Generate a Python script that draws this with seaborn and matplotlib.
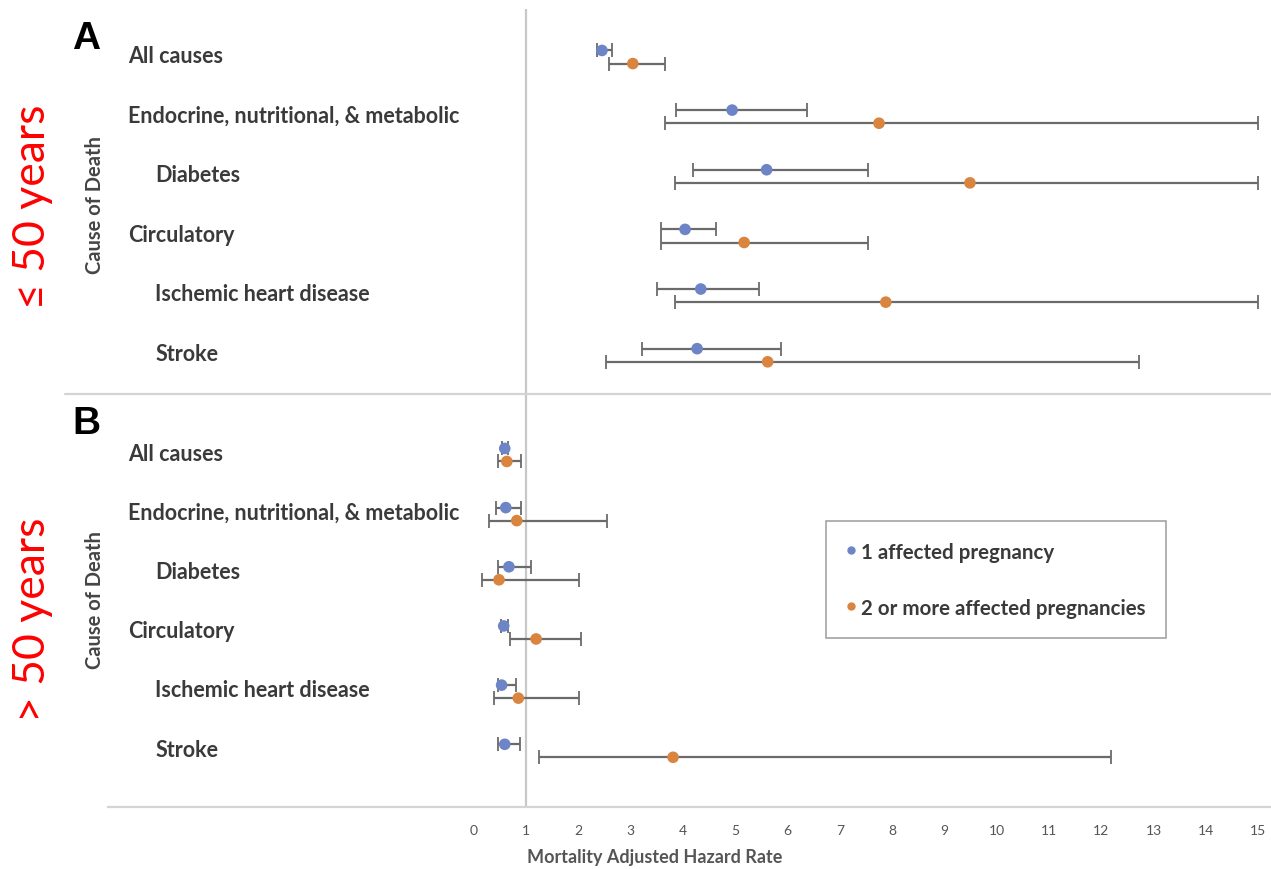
import numpy as np
import pandas as pd
import matplotlib
matplotlib.use("Agg")
import matplotlib.pyplot as plt
from matplotlib.lines import Line2D
import seaborn as sns

# causes of death (indented ones are sub-categories)
causes = ["All causes", "Endocrine, nutritional, & metabolic", "Diabetes",
          "Circulatory", "Ischemic heart disease", "Stroke"]
indent = [False, False, True, False, True, True]

# panel A: <= 50 years
a_hr1 = [2.45, 4.94, 5.60, 4.04, 4.34, 4.27]
a_lo1 = [2.35, 3.86, 4.19, 3.58, 3.50, 3.21]
a_hi1 = [2.65, 6.37, 7.54, 4.63, 5.45, 5.87]
a_hr2 = [3.04, 7.75, 9.49, 5.17, 7.88, 5.62]
a_lo2 = [2.58, 3.65, 3.85, 3.58, 3.85, 2.53]
a_hi2 = [3.65, 15.0, 15.0, 7.54, 15.0, 12.72]

# panel B: > 50 years
b_hr1 = [0.59, 0.61, 0.67, 0.57, 0.53, 0.59]
b_lo1 = [0.54, 0.42, 0.47, 0.52, 0.46, 0.46]
b_hi1 = [0.65, 0.91, 1.09, 0.66, 0.80, 0.88]
b_hr2 = [0.63, 0.82, 0.48, 1.19, 0.85, 3.81]
b_lo2 = [0.46, 0.29, 0.16, 0.70, 0.38, 1.24]
b_hi2 = [0.91, 2.55, 2.01, 2.05, 2.01, 12.19]

groups = ["1 affected pregnancy", "2 or more affected pregnancies"]
colors = ["#6d84c6", "#d9843f"]

sns.set_style("white")
plt.rcParams["font.family"] = ["Lato", "DejaVu Sans"]

W, H = 1271, 870
fig = plt.figure(figsize=(W / 100, H / 100), dpi=100)


def fig_box(x0, y0, x1, y1):
    return [x0 / W, 1 - y1 / H, (x1 - x0) / W, (y1 - y0) / H]


ax_a = fig.add_axes(fig_box(108, 10, 1270, 395))
ax_b = fig.add_axes(fig_box(108, 395, 1270, 808))

xlim = (-7.0, 15.23)
panels = [
    (ax_a, a_hr1, a_lo1, a_hi1, a_hr2, a_lo2, a_hi2, (5.70, -0.755), "A"),
    (ax_b, b_hr1, b_lo1, b_hi1, b_hr2, b_lo2, b_hi2, (6.0, -0.98), "B"),
]

for ax, hr1, lo1, hi1, hr2, lo2, hi2, ylim, tag in panels:
    rows = np.arange(len(causes))
    df = pd.DataFrame({
        "hr": hr1 + hr2,
        "lo": lo1 + lo2,
        "hi": hi1 + hi2,
        "row": np.concatenate([rows - 0.06, rows + 0.16]),
        "group": [groups[0]] * len(causes) + [groups[1]] * len(causes),
    })
    for g in groups:
        d = df[df["group"] == g]
        ax.errorbar(d["hr"], d["row"], xerr=[d["hr"] - d["lo"], d["hi"] - d["hr"]],
                    fmt="none", ecolor="#6b6b6b", elinewidth=1.6, capsize=5,
                    capthick=1.3, zorder=2)
    sns.scatterplot(data=df, x="hr", y="row", hue="group", palette=colors,
                    s=70, edgecolor="none", legend=False, ax=ax, zorder=3)
    ax.axvline(1, color="#c8c8c8", lw=1.6, zorder=1)
    ax.set_xlim(*xlim)
    ax.set_ylim(*ylim)
    ax.set_xlabel("")
    ax.set_ylabel("")
    ax.set_yticks([])
    for s in ["top", "left", "right", "bottom"]:
        ax.spines[s].set_visible(False)
    for i, c in enumerate(causes):
        ax.text(-6.1 if indent[i] else -6.62, i + 0.02, c, fontsize=15.5, fontweight="bold",
                color="#3a3a3a", va="center", ha="left")
    ax.text(-7.68, ylim[1] + 0.18, tag, fontsize=28, fontweight="bold",
            color="black", va="top", ha="left", family=["Liberation Sans", "DejaVu Sans"])

ax_a.set_xticks([])
ax_b.set_xticks(range(16))
ax_b.set_xticklabels([str(i) for i in range(16)], fontsize=10, color="#555555")
ax_b.tick_params(axis="x", length=0, pad=12)
ax_b.spines["bottom"].set_visible(True)
ax_b.spines["bottom"].set_color("#d4d4d4")
ax_b.spines["bottom"].set_linewidth(1.6)

# divider between the two panels
fig.add_artist(Line2D([65 / W, 1], [1 - 395 / H, 1 - 395 / H], color="#d4d4d4", lw=1.6))

fig.text(655 / W, 1 - 858 / H, "Mortality Adjusted Hazard Rate", fontsize=13,
         fontweight="bold", color="#555555", ha="center", va="center")

for yc in [205, 600]:
    fig.text(95 / W, 1 - yc / H, "Cause of Death", rotation=90, fontsize=14.5,
             fontweight="bold", color="#454545", ha="center", va="center")

fig.text(33 / W, 1 - 207 / H, "\u2264 50 years", rotation=90, fontsize=32,
         color="#ff0000", ha="center", va="center")
fig.text(33 / W, 1 - 620 / H, "> 50 years", rotation=90, fontsize=32,
         color="#ff0000", ha="center", va="center")

handles = [Line2D([], [], marker="o", ls="none", markersize=5, color=c) for c in colors]
leg = fig.legend(handles, groups, loc="upper left",
                 bbox_to_anchor=(826 / W, 1 - 522 / H), bbox_transform=fig.transFigure,
                 frameon=True, fancybox=False, fontsize=14.8, labelspacing=1.75,
                 borderpad=1.0, borderaxespad=0, handletextpad=0.3, handlelength=0.4)
leg.get_frame().set_edgecolor("#8c8c8c")
leg.get_frame().set_linewidth(1.2)
for t in leg.get_texts():
    t.set_fontweight("bold")
    t.set_color("#3a3a3a")

fig.savefig("out.png", dpi=100)
